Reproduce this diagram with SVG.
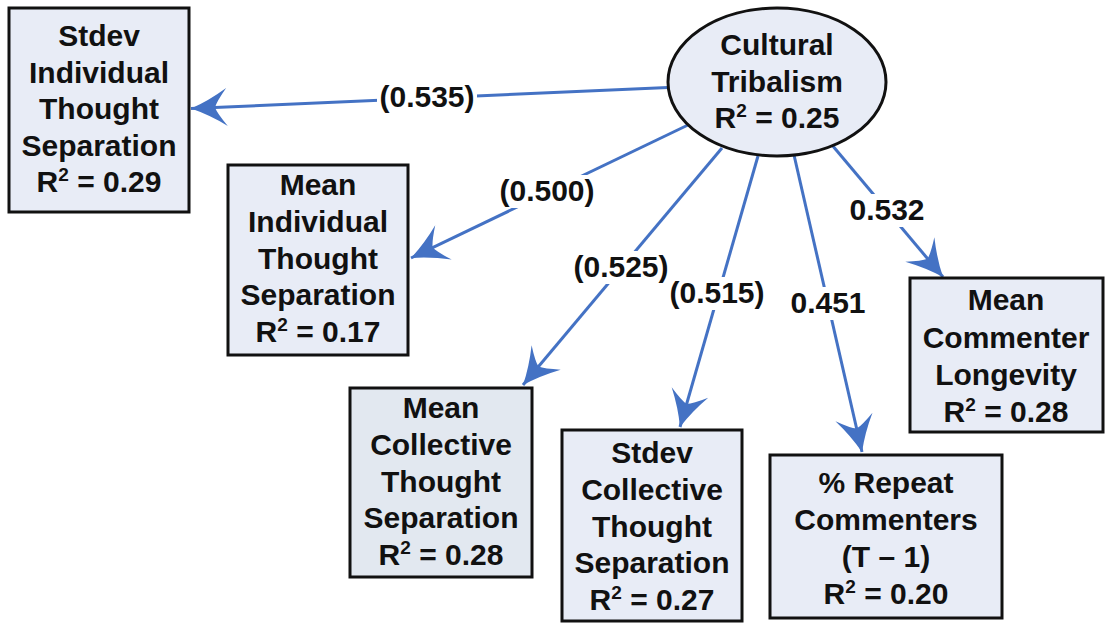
<svg xmlns="http://www.w3.org/2000/svg" width="1105" height="624" viewBox="0 0 1105 624">
  <style>
    .node { fill: #e8ecf6; stroke: #111111; stroke-width: 3; }
    .lbl { font-family: "Liberation Sans", Arial, sans-serif; font-weight: bold; font-size: 30px; fill: #111111; text-anchor: middle; }
    .elbl { font-family: "Liberation Sans", Arial, sans-serif; font-weight: bold; font-size: 30px; fill: #111111; text-anchor: middle; }
    .sup { font-size: 19px; }
    .edge { fill: none; stroke: #4472c4; stroke-width: 3; marker-end: url(#stealth); }
    .gap { fill: #ffffff; }
  </style>
  <defs>
    <marker id="stealth" markerUnits="userSpaceOnUse" orient="auto" viewBox="-38 -21 40 42" refX="0" refY="0" markerWidth="40" markerHeight="42">
      <path d="M0,0 Q-18,-7 -36,-19 Q-26,-6 -24,0 Q-26,6 -36,19 Q-18,7 0,0 Z" fill="#4472c4"/>
    </marker>
  </defs>
  <rect width="1105" height="624" fill="#ffffff"/>

  <!-- connectors with their path coefficients -->
  <g id="connectors">
    <line class="edge" x1="668" y1="87.5" x2="191" y2="108.5"/>
    <line class="edge" x1="688" y1="125" x2="411" y2="258"/>
    <line class="edge" x1="722" y1="148" x2="523" y2="385"/>
    <line class="edge" x1="758" y1="156" x2="680" y2="427"/>
    <line class="edge" x1="794" y1="155" x2="862" y2="452"/>
    <line class="edge" x1="832" y1="145" x2="943" y2="277"/>

    <rect class="gap" x="377" y="81" width="100" height="33"/>
    <text class="elbl" x="427" y="107">(0.535)</text>
    <rect class="gap" x="497" y="175" width="100" height="33"/>
    <text class="elbl" x="547" y="201">(0.500)</text>
    <rect class="gap" x="571" y="251" width="100" height="33"/>
    <text class="elbl" x="621" y="277">(0.525)</text>
    <rect class="gap" x="667" y="277" width="100" height="33"/>
    <text class="elbl" x="717" y="303">(0.515)</text>
    <rect class="gap" x="789" y="287" width="78" height="33"/>
    <text class="elbl" x="828" y="313">0.451</text>
    <rect class="gap" x="848" y="194" width="78" height="33"/>
    <text class="elbl" x="887" y="220">0.532</text>
  </g>

  <!-- latent construct -->
  <g id="cultural-tribalism">
    <ellipse class="node" cx="777" cy="82" rx="109" ry="74"/>
    <text class="lbl" x="777" y="55">Cultural</text>
    <text class="lbl" x="777" y="91.5">Tribalism</text>
    <text class="lbl" x="777" y="128">R<tspan class="sup" dy="-11">2</tspan><tspan dy="11"> = 0.25</tspan></text>
  </g>

  <g id="stdev-individual">
    <rect class="node" x="9" y="8" width="180" height="204"/>
    <text class="lbl" x="99" y="46">Stdev</text>
    <text class="lbl" x="99" y="82.5">Individual</text>
    <text class="lbl" x="99" y="119">Thought</text>
    <text class="lbl" x="99" y="155.5">Separation</text>
    <text class="lbl" x="99" y="192">R<tspan class="sup" dy="-11">2</tspan><tspan dy="11"> = 0.29</tspan></text>
  </g>

  <g id="mean-individual">
    <rect class="node" x="228" y="165" width="180" height="190"/>
    <text class="lbl" x="318" y="195">Mean</text>
    <text class="lbl" x="318" y="231.75">Individual</text>
    <text class="lbl" x="318" y="268.5">Thought</text>
    <text class="lbl" x="318" y="305.25">Separation</text>
    <text class="lbl" x="318" y="342">R<tspan class="sup" dy="-11">2</tspan><tspan dy="11"> = 0.17</tspan></text>
  </g>

  <g id="mean-collective">
    <rect class="node" x="350" y="388" width="182" height="189" style="fill:#e2e8f0"/>
    <text class="lbl" x="441" y="418">Mean</text>
    <text class="lbl" x="441" y="454.75">Collective</text>
    <text class="lbl" x="441" y="491.5">Thought</text>
    <text class="lbl" x="441" y="528.25">Separation</text>
    <text class="lbl" x="441" y="565">R<tspan class="sup" dy="-11">2</tspan><tspan dy="11"> = 0.28</tspan></text>
  </g>

  <g id="stdev-collective">
    <rect class="node" x="562" y="430" width="180" height="191"/>
    <text class="lbl" x="652" y="463">Stdev</text>
    <text class="lbl" x="652" y="499.75">Collective</text>
    <text class="lbl" x="652" y="536.5">Thought</text>
    <text class="lbl" x="652" y="573.25">Separation</text>
    <text class="lbl" x="652" y="610">R<tspan class="sup" dy="-11">2</tspan><tspan dy="11"> = 0.27</tspan></text>
  </g>

  <g id="repeat-commenters">
    <rect class="node" x="770" y="455" width="232" height="163"/>
    <text class="lbl" x="886" y="493">% Repeat</text>
    <text class="lbl" x="886" y="530">Commenters</text>
    <text class="lbl" x="886" y="567">(T – 1)</text>
    <text class="lbl" x="886" y="604">R<tspan class="sup" dy="-11">2</tspan><tspan dy="11"> = 0.20</tspan></text>
  </g>

  <g id="commenter-longevity">
    <rect class="node" x="910" y="278" width="193" height="154"/>
    <text class="lbl" x="1006" y="310">Mean</text>
    <text class="lbl" x="1006" y="347.5">Commenter</text>
    <text class="lbl" x="1006" y="385">Longevity</text>
    <text class="lbl" x="1006" y="422">R<tspan class="sup" dy="-11">2</tspan><tspan dy="11"> = 0.28</tspan></text>
  </g>
</svg>
